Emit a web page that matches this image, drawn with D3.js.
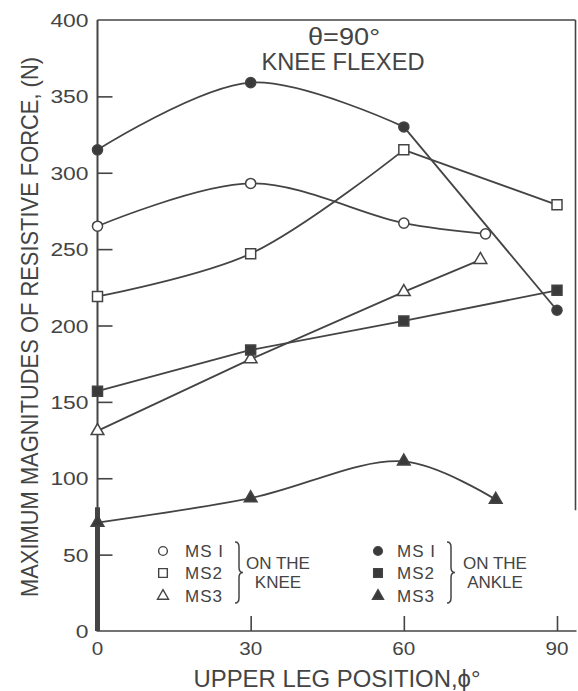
<!DOCTYPE html>
<html>
<head>
<meta charset="utf-8">
<script src="https://cdn.jsdelivr.net/npm/d3@7"></script>
<style>
  html, body { margin: 0; padding: 0; background: #fff; }
  svg text { font-family: "Liberation Sans", Arial, sans-serif; fill: #444; }
</style>
</head>
<body>
<svg id="chart" width="578" height="691"></svg>
<script>
// ---------- data ----------
const yTicks = [0, 50, 100, 150, 200, 250, 300, 350, 400];
const xTicks = [0, 30, 60, 90];

// Sensor on the knee (open symbols)
const ms1KneePhi = [0, 30, 60, 76];
const ms1KneeForce = [265, 293, 267, 260];
const ms2KneePhi = [0, 30, 60, 90];
const ms2KneeForce = [219, 247, 315, 279];
const ms3KneePhi = [0, 30, 60, 75];
const ms3KneeForce = [131, 178, 222, 243];

// Sensor on the ankle (filled symbols)
const ms1AnklePhi = [0, 30, 60, 90];
const ms1AnkleForce = [315, 359, 330, 210];
const ms2AnklePhi = [0, 30, 60, 90];
const ms2AnkleForce = [157, 184, 203, 223];
const ms3AnklePhi = [0, 30, 60, 78];
const ms3AnkleForce = [71, 87, 111, 86];

const legendNames = ["MS I", "MS2", "MS3"];
const legendGroups = [["ON THE", "KNEE"], ["ON THE", "ANKLE"]];
const titleLines = ["\u03B8=90\u00B0", "KNEE FLEXED"];
const xTitle = "UPPER LEG POSITION,\u03D5\u00B0";
const yTitle = "MAXIMUM MAGNITUDES OF RESISTIVE FORCE, (N)";

// ---------- layout ----------
const svg = d3.select("#chart");
const ink = "#444";
const x = d3.scaleLinear().domain([0, 90]).range([97.5, 557]);
const y = d3.scaleLinear().domain([0, 400]).range([631, 20]);
const xRight = x.invert(575.5);

const symbolType = { circle: d3.symbolCircle, square: d3.symbolSquare, triangle: d3.symbolTriangle };
const symbolSize = { circle: 80, square: 100, triangle: 70 };

const series = [
  { phi: ms1KneePhi, f: ms1KneeForce, sym: "circle", filled: false, smoothTo: 3 },
  { phi: ms2KneePhi, f: ms2KneeForce, sym: "square", filled: false, smoothTo: 2 },
  { phi: ms3KneePhi, f: ms3KneeForce, sym: "triangle", filled: false, smoothTo: 0 },
  { phi: ms1AnklePhi, f: ms1AnkleForce, sym: "circle", filled: true, smoothTo: 2 },
  { phi: ms2AnklePhi, f: ms2AnkleForce, sym: "square", filled: true, smoothTo: 0 },
  { phi: ms3AnklePhi, f: ms3AnkleForce, sym: "triangle", filled: true, smoothTo: 3 }
];

// ---------- frame & axes ----------
const frame = svg.append("g").attr("stroke", ink).attr("fill", "none");
frame.append("line").attr("x1", x(0)).attr("x2", x(0)).attr("y1", y(400)).attr("y2", y(0)).attr("stroke-width", 2);
frame.append("line").attr("x1", x(0)).attr("x2", x(0)).attr("y1", y(81)).attr("y2", y(0)).attr("stroke-width", 5);
frame.append("line").attr("x1", x(0) - 1).attr("x2", x(xRight) + 1).attr("y1", y(0)).attr("y2", y(0)).attr("stroke-width", 1.6);
frame.append("line").attr("x1", x(0)).attr("x2", x(xRight)).attr("y1", y(400)).attr("y2", y(400)).attr("stroke-width", 1.6);
frame.append("line").attr("x1", x(xRight)).attr("x2", x(xRight)).attr("y1", y(400)).attr("y2", y(79)).attr("stroke-width", 1.6);

// y axis ticks (inward) and labels
const yAxis = d3.axisRight(y).tickValues(yTicks.filter(v => v > 0 && v < 400)).tickSize(15).tickFormat("");
const gy = svg.append("g").attr("transform", `translate(${x(0)},0)`).call(yAxis);
gy.select(".domain").remove();
gy.selectAll(".tick line").attr("stroke", ink).attr("stroke-width", 1.6);
svg.append("g").selectAll("text").data(yTicks).join("text")
  .attr("x", x(0) - 9).attr("y", d => y(d) + 7)
  .attr("text-anchor", "end").attr("font-size", 19)
  .attr("textLength", d => String(d).length * 12.7).attr("lengthAdjust", "spacingAndGlyphs")
  .text(d => d);

// x axis ticks (inward) and labels
const xAxis = d3.axisTop(x).tickValues(xTicks.filter(v => v > 0)).tickSize(15).tickFormat("");
const gx = svg.append("g").attr("transform", `translate(0,${y(0)})`).call(xAxis);
gx.select(".domain").remove();
gx.selectAll(".tick line").attr("stroke", ink).attr("stroke-width", 1.6);
svg.append("g").selectAll("text").data(xTicks).join("text")
  .attr("x", d => x(d)).attr("y", 655)
  .attr("text-anchor", "middle").attr("font-size", 18)
  .attr("textLength", d => String(d).length * 11.5).attr("lengthAdjust", "spacingAndGlyphs")
  .text(d => d);

// axis titles
svg.append("text").attr("x", 337).attr("y", 687).attr("text-anchor", "middle")
  .attr("font-size", 24).attr("textLength", 287).attr("lengthAdjust", "spacingAndGlyphs").text(xTitle);
svg.append("text").attr("transform", "translate(38,327) rotate(-90)").attr("text-anchor", "middle")
  .attr("font-size", 24).attr("textLength", 540).attr("lengthAdjust", "spacingAndGlyphs").text(yTitle);

// chart annotation
svg.append("text").attr("x", 344).attr("y", 45).attr("text-anchor", "middle")
  .attr("font-size", 23).attr("textLength", 72).attr("lengthAdjust", "spacingAndGlyphs").text(titleLines[0]);
svg.append("text").attr("x", 343).attr("y", 70).attr("text-anchor", "middle")
  .attr("font-size", 23).attr("textLength", 163).attr("lengthAdjust", "spacingAndGlyphs").text(titleLines[1]);

// ---------- series ----------
const lineSmooth = d3.line().x(d => x(d[0])).y(d => y(d[1])).curve(d3.curveCatmullRom.alpha(0.5));
const lineStraight = d3.line().x(d => x(d[0])).y(d => y(d[1]));
const gLines = svg.append("g").attr("fill", "none").attr("stroke", ink).attr("stroke-width", 1.8);
series.forEach(s => {
  const pts = s.phi.map((p, i) => [p, s.f[i]]);
  if (s.smoothTo > 0) gLines.append("path").attr("d", lineSmooth(pts.slice(0, s.smoothTo + 1)));
  if (s.smoothTo < pts.length - 1) gLines.append("path").attr("d", lineStraight(pts.slice(s.smoothTo)));
});
const gMarks = svg.append("g");
series.forEach(s => {
  gMarks.selectAll(null).data(s.phi.map((p, i) => [p, s.f[i]])).join("path")
    .attr("transform", d => `translate(${x(d[0])},${y(d[1])})`)
    .attr("d", d3.symbol().type(symbolType[s.sym]).size(symbolSize[s.sym]))
    .attr("fill", s.filled ? "#3a3a3a" : "#fff")
    .attr("stroke", ink).attr("stroke-width", 1.5);
});

// ---------- legend ----------
function brace(g, bx, y0, y1, w) {
  const xm = bx + w / 2, ym = (y0 + y1) / 2, r = 5;
  g.append("path").attr("fill", "none").attr("stroke", ink).attr("stroke-width", 1.5)
    .attr("d", `M${bx},${y0} Q${xm},${y0} ${xm},${y0 + r} L${xm},${ym - r} Q${xm},${ym} ${bx + w},${ym}` +
               ` Q${xm},${ym} ${xm},${ym + r} L${xm},${y1 - r} Q${xm},${y1} ${bx},${y1}`);
}
const legendDefs = [
  { sx: 163, tx: 185, bx: 235, gx: 278, filled: false, group: legendGroups[0] },
  { sx: 378, tx: 397, bx: 447, gx: 495, filled: true, group: legendGroups[1] }
];
const legSyms = ["circle", "square", "triangle"];
const legRows = [551, 573, 596];
legendDefs.forEach(L => {
  const g = svg.append("g");
  legendNames.forEach((nm, i) => {
    g.append("path").attr("transform", `translate(${L.sx},${legRows[i]})`)
      .attr("d", d3.symbol().type(symbolType[legSyms[i]]).size(symbolSize[legSyms[i]] * 0.75))
      .attr("fill", L.filled ? "#3a3a3a" : "#fff").attr("stroke", ink).attr("stroke-width", 1.4);
    g.append("text").attr("x", L.tx).attr("y", legRows[i] + 6).attr("font-size", 17)
      .attr("letter-spacing", 1).text(nm);
  });
  brace(g, L.bx, 542, 603, 8);
  g.append("text").attr("x", L.gx).attr("y", 569).attr("text-anchor", "middle").attr("font-size", 17).text(L.group[0]);
  g.append("text").attr("x", L.gx).attr("y", 588).attr("text-anchor", "middle").attr("font-size", 17).text(L.group[1]);
});
</script>
</body>
</html>
